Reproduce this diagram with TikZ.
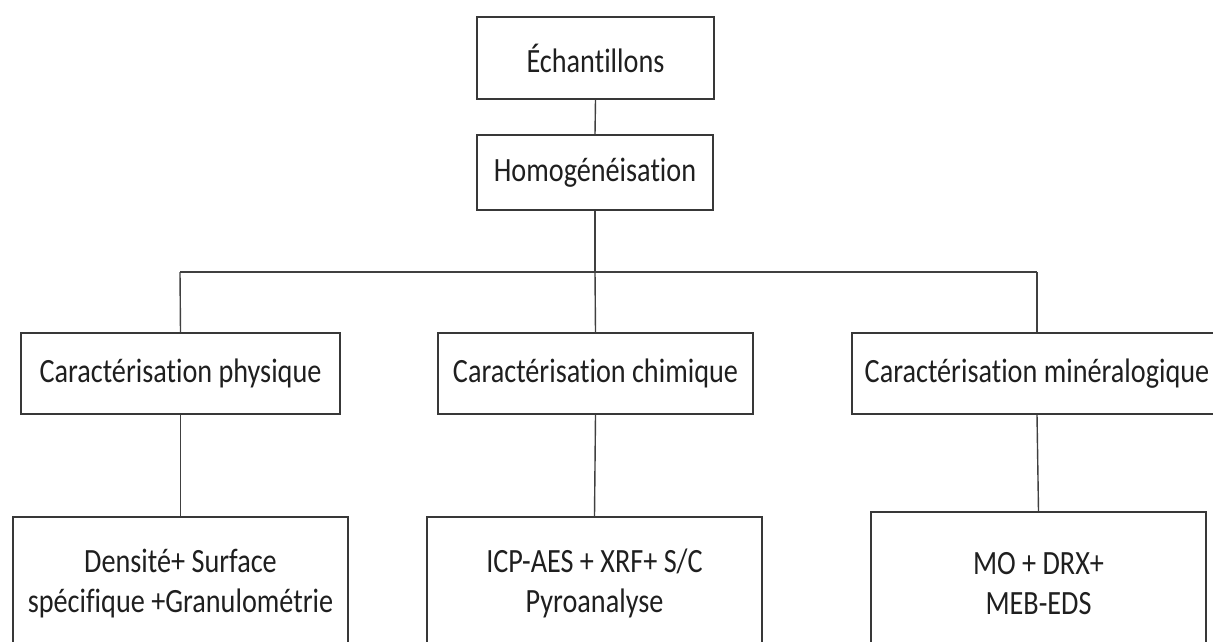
\documentclass[tikz,border=0pt]{standalone}
\usepackage{fontspec}
\setmainfont{Carlito}[FakeStretch=0.83, RawFeature={-liga;-clig;-calt;-dlig}]
\begin{document}
\begin{tikzpicture}[x=1pt,y=-1pt,
  every node/.style={font=\fontsize{34}{40}\selectfont, text=black!88},
  box/.style={draw=black!78, line width=1.5pt, rectangle, inner sep=0pt, align=center},
  link/.style={draw=black!75, line width=1.4pt}]
\useasboundingbox (0,0) rectangle (1213,642);
\clip (0,0) rectangle (1213,642);
\node[box, minimum width=237pt, minimum height=82pt] (ech) at (595.5,58) {Échantillons};
\node[box, minimum width=236pt, minimum height=75pt] (hom) at (595,172.5) {Homogénéisation};
\node[box, minimum width=319pt, minimum height=81pt] (phy) at (180.5,373.5) {Caractérisation physique};
\node[box, minimum width=315pt, minimum height=81pt] (chi) at (595.5,373.5) {Caractérisation chimique};
\node[box, minimum width=370pt, minimum height=81pt] (min) at (1037,373.5) {Caractérisation minéralogique};
\node[box, anchor=north, minimum width=335pt, minimum height=134pt] (b1) at (180.5,516) {Densité+ Surface\\spécifique +Granulométrie};
\node[box, anchor=north, minimum width=335pt, minimum height=134pt] (b2) at (594.5,516) {ICP-AES + XRF+ S/C\\Pyroanalyse};
\node[box, anchor=north, minimum width=335pt, minimum height=143pt] (b3) at (1038.5,511) {MO + DRX+\\MEB-EDS};
\coordinate (barL) at (180,272);
\coordinate (barR) at (1037,272);
\coordinate (barM) at (595,272);
\draw[link] (ech.south) -- (hom.north);
\draw[link] (hom.south) -- (barM);
\draw[link, line width=1.9pt] (barL) -- (695,272);
\draw[link] (695,272) -- (barR);
\draw[link] (barL) -- (phy.north);
\draw[link] (barM) -- (chi.north);
\draw[link] (barR) -- (min.north);
\draw[link] (phy.south) -- (b1.north);
\draw[link] (chi.south) -- (b2.north);
\draw[link] (min.south) -- (b3.north);
\end{tikzpicture}
\end{document}
